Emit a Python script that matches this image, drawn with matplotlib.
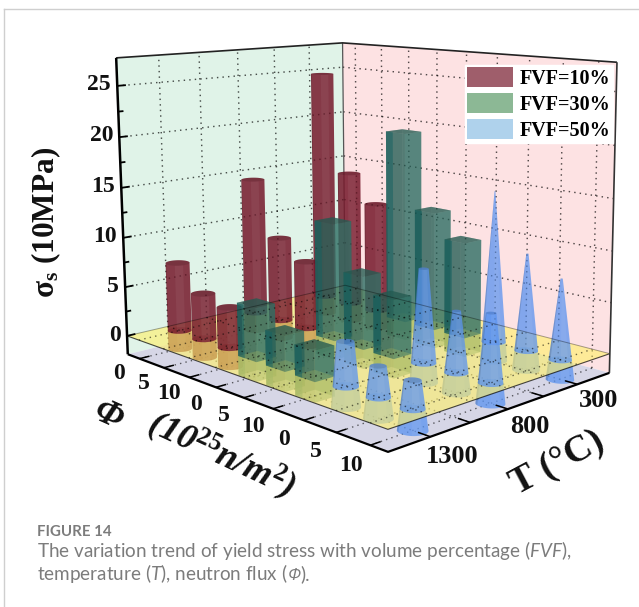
import numpy as np
import matplotlib
matplotlib.use('Agg')
import matplotlib.pyplot as plt
from matplotlib.lines import Line2D
from matplotlib.patches import Patch
from matplotlib.colors import to_rgb
from mpl_toolkits.mplot3d import proj3d
from mpl_toolkits.mplot3d.art3d import Poly3DCollection, Line3DCollection

plt.rcParams['font.family'] = ['Liberation Serif', 'DejaVu Serif']
plt.rcParams['mathtext.fontset'] = 'custom'
plt.rcParams['mathtext.bf'] = 'Liberation Serif:bold'
plt.rcParams['mathtext.rm'] = 'Liberation Serif:bold'
plt.rcParams['mathtext.it'] = 'Lato:italic'

# ---------- data ----------
T_labels = ['1300', '800', '300']
phi_labels = ['0', '5', '10']
sigma_ticks = [0, 5, 10, 15, 20, 25]
fvf_labels = ['FVF=10%', 'FVF=30%', 'FVF=50%']
# rows follow T_labels, columns follow phi_labels
sigma_fvf10 = [[7.0, 4.6, 4.0], [14.3, 8.7, 6.9], [24.7, 14.3, 11.5]]
sigma_fvf30 = [[5.2, 3.4, 2.9], [11.7, 7.2, 5.7], [19.6, 12.0, 9.6]]
sigma_fvf50 = [[4.1, 2.8, 2.5], [9.0, 5.8, 6.4], [15.0, 9.5, 7.8]]
cone_top_ratio = [[0.6, 0.55, 0.57], [0.35, 0.3, 0.35], [0.03, 0.08, 0.08]]

# ---------- styles ----------
RED, GREEN, BLUE = '#761a2c', '#2a665c', '#5c94f0'
A_RED, A_GREEN, A_BLUE = 0.86, 0.55, 0.76
Z_FLOOR, Z_TOP = -1.9, 27.7

W, H = 639, 607
fig = plt.figure(figsize=(W / 100, H / 100), dpi=100, facecolor='white')
ax = fig.add_axes([0, 0, 1, 1], projection='3d')
ax.set_xticks([]); ax.set_yticks([]); ax.set_zticks([])
ax.set_axis_off()
ax.computed_zorder = False
ax.patch.set_alpha(0)

# camera calibrated against the box corners of the figure
calib = [((0, 0, Z_TOP), (116, 58)), ((0, 0, 25), (117, 85)), ((0, 0, 0), (128, 336)),
         ((0, 0, Z_FLOOR), (128, 355)), ((9, 0, 0), (386, 428)), ((9, 0, Z_FLOOR), (389, 453)),
         ((9, 3, Z_TOP), (617, 63)), ((9, 3, 0), (610, 352)), ((9, 3, Z_FLOOR), (610, 374)),
         ((0, 3, Z_TOP), (343, 43)), ((0, 3, 0), (344, 285))]
A_, b_ = [], []
for (x, y, z), (px, py) in calib:
    A_.append([x, y, z, 1, 0, 0, 0, 0, -px * x, -px * y, -px * z]); b_.append(px)
    A_.append([0, 0, 0, 0, x, y, z, 1, -py * x, -py * y, -py * z]); b_.append(py)
p = np.linalg.lstsq(np.array(A_, float), np.array(b_, float), rcond=None)[0]
M = np.array([[p[0], p[1], p[2], p[3]],
              [p[4], p[5], p[6], p[7]],
              [-1 / 9, 1 / 3, 0.001, 0.0],
              [p[8], p[9], p[10], 1.0]])
ax.get_proj = lambda: M
ax.viewLim.intervalx = ((W - H) / 2, (W + H) / 2)
ax.viewLim.intervaly = (H, 0)


def quad(verts, color, z):
    ax.add_collection3d(Poly3DCollection([verts], facecolors=color, edgecolors='none',
                                         linewidths=0, zorder=z), autolim=False)


def line(xs, ys, zs, z=3, color='k', lw=1.0, ls='-', alpha=1.0):
    seg = [list(zip(xs, ys, zs))]
    ax.add_collection3d(Line3DCollection(seg, colors=color, linewidths=lw, linestyles=[ls],
                                         alpha=alpha, zorder=z), autolim=False)


def label3d(u, v, z, s, **kw):
    X, Y, _ = proj3d.proj_transform(u, v, z, M)
    ax.text2D(float(X), float(Y), s, transform=ax.transData, **kw)


# panes
quad([(0, 0, Z_FLOOR), (0, 3, Z_FLOOR), (0, 3, Z_TOP), (0, 0, Z_TOP)], '#e0f3e8', 1)
quad([(0, 3, Z_FLOOR), (9, 3, Z_FLOOR), (9, 3, Z_TOP), (0, 3, Z_TOP)], '#fde2e3', 1)
quad([(0, 0, Z_FLOOR), (9, 0, Z_FLOOR), (9, 3, Z_FLOOR), (0, 3, Z_FLOOR)], '#d6d6e6', 1)

dot = (0, (1, 3))
u_lines = np.arange(0.5, 9, 1.0)
v_lines = np.arange(0.5, 3, 0.5)
# wall grids: once behind the bars, once faintly through them
for zz, al in ((2, .62), (55, .16)):
    for s in sigma_ticks[1:]:
        line([0, 0], [0, 3], [s, s], z=zz, ls=dot, lw=1.0, alpha=al)
        line([0, 9], [3, 3], [s, s], z=zz, ls=dot, lw=1.0, alpha=al)
    for v in v_lines:
        line([0, 0], [v, v], [Z_FLOOR, Z_TOP], z=zz, ls=dot, lw=1.0, alpha=al)
    for u in u_lines:
        line([u, u], [3, 3], [Z_FLOOR, Z_TOP], z=zz, ls=dot, lw=1.0, alpha=al)
# floor and sigma=0 plane grids
for lev, zz, al in ((Z_FLOOR, 2, .6), (0, 50, .55)):
    for u in u_lines:
        line([u, u], [0, 3], [lev, lev], z=zz, ls=dot, lw=1.0, alpha=al)
    for v in v_lines:
        line([0, 9], [v, v], [lev, lev], z=zz, ls=dot, lw=1.0, alpha=al)


def ell(u, v, z, r, t):
    return (u + r * 0.3 * np.cos(t), v + r * 0.12 * np.sin(t), z)


def frustum(u, v, z0, z1, r0, r1, color, a, z, cap=True):
    # silhouette: front arc of the lower rim, back arc of the upper rim
    rgb = np.array(to_rgb(color))
    front = np.radians(np.linspace(225, 405, 31))
    back = np.radians(np.linspace(45, 225, 31))
    body = [ell(u, v, z0, r0, t) for t in front] + [ell(u, v, z1, r1, t) for t in back]
    polys, cols = [body], [tuple(rgb) + (a,)]
    # darker strip down the left side, lighter one at the right of centre
    s0 = np.radians(np.linspace(225, 250, 8))
    strip = [ell(u, v, z0, r0, t) for t in s0] + [ell(u, v, z1, r1, t) for t in s0[::-1]]
    polys.append(strip); cols.append((0, 0, 0, 0.12))
    s1 = np.radians(np.linspace(310, 350, 8))
    strip = [ell(u, v, z0, r0, t) for t in s1] + [ell(u, v, z1, r1, t) for t in s1[::-1]]
    polys.append(strip); cols.append((1, 1, 1, 0.05))
    if cap:
        th = np.linspace(0, 2 * np.pi, 37)[:-1]
        polys.append([ell(u, v, z1, r1, t) for t in th]); cols.append((0, 0, 0, 0.10))
    for k, (pl, c) in enumerate(zip(polys, cols)):
        ax.add_collection3d(Poly3DCollection([pl], facecolors=[c], edgecolors='none', linewidths=0,
                                             zorder=z + k * 0.01), autolim=False)


def prism(u, v, z0, z1, color, a, z):
    hu, hv = 0.33, 0.12
    rgb = np.array(to_rgb(color))
    c = [(u - hu, v - hv), (u + hu, v - hv), (u + hu, v + hv), (u - hu, v + hv)]
    fs = [0.95, 1.12, 1.0, 0.9]
    faces, cols = [], []
    for i in (2, 3, 1, 0):
        j = (i + 1) % 4
        faces.append([(*c[i], z0), (*c[j], z0), (*c[j], z1), (*c[i], z1)])
        cols.append(tuple(np.clip(rgb * fs[i], 0, 1)) + (a,))
    faces.append([(*q, z1) for q in c])
    cols.append(tuple(rgb * 0.85) + (a,))
    ax.add_collection3d(Poly3DCollection(faces, facecolors=cols, edgecolors='none', linewidths=0,
                                         zorder=z), autolim=False)
    # narrow dark teal strip on the left of the front face
    quad([(u - hu, v - hv, z0), (u - hu + 0.24, v - hv, z0),
          (u - hu + 0.24, v - hv, z1), (u - hu, v - hv, z1)], (0.08, 0.38, 0.38, 0.5), z + 0.01)


# bars: part below the sigma=0 plane, the plane, then the part above it
items = []
for it, vc in enumerate((0.5, 1.5, 2.5)):
    for ip in range(3):
        items.append((vc / 3 - (ip + 0.5) / 9, 'r', ip + 0.5, vc, sigma_fvf10[it][ip], 1, 1))
        items.append((vc / 3 - (ip + 3.5) / 9, 'g', ip + 3.5, vc, sigma_fvf30[it][ip], 1, 1))
        items.append((vc / 3 - (ip + 6.5) / 9, 'b', ip + 6.5, vc, sigma_fvf50[it][ip], 1.1,
                      cone_top_ratio[it][ip]))
items.sort(key=lambda q: -q[0])
for rank, (d, kind, u, v, val, r0, rt) in enumerate(items):
    zb, zt = 3 + rank * 0.1, 10 + rank
    if kind == 'r':
        frustum(u, v, Z_FLOOR, 0, 1, 1, RED, A_RED, zb, cap=False)
        frustum(u, v, 0, val, 1, 1, RED, A_RED, zt)
    elif kind == 'g':
        prism(u, v, Z_FLOOR, 0, GREEN, A_GREEN, zb)
        prism(u, v, 0, val, GREEN, A_GREEN, zt)
    else:
        rr = r0 * rt
        r_at0 = r0 + (rr - r0) * (-Z_FLOOR) / (val - Z_FLOOR)
        frustum(u, v, Z_FLOOR, 0, r0, r_at0, BLUE, A_BLUE, zb, cap=False)
        frustum(u, v, 0, val, r_at0, rr, BLUE, A_BLUE, zt)

quad([(0, 0, 0), (9, 0, 0), (9, 3, 0), (0, 3, 0)], (1.0, 0.94, 0.42, 0.62), 7)
line([0, 9, 9], [0, 0, 3], [0, 0, 0], z=50, lw=0.8, alpha=.7)
line([0, 0, 9], [0, 3, 3], [0, 0, 0], z=50, lw=0.7, alpha=.35)

# frame
F = 60
line([0, 0, 9], [0, 3, 3], [Z_TOP] * 3, z=F, lw=1.2, color='#222222')
line([0, 0], [0, 0], [Z_FLOOR, Z_TOP], z=F, lw=1.8)
line([9, 9], [3, 3], [Z_FLOOR, Z_TOP], z=F, lw=1.2, color='#333333')
line([0, 0], [3, 3], [0, Z_TOP], z=2, lw=0.9, color='#555555')
line([0, 9, 9], [0, 0, 3], [Z_FLOOR] * 3, z=F, lw=1.6)

# ticks
for s in np.arange(0, 26, 2.5):
    line([0, 0], [0, 0.1 if s % 5 == 0 else 0.06], [s, s], z=F, lw=1.3)
for u in u_lines:
    line([u, u], [0, 0.12], [Z_FLOOR] * 2, z=F, lw=1.1)
for v in v_lines:
    line([9, 8.65], [v, v], [Z_FLOOR] * 2, z=F, lw=1.1)

TXT = dict(fontweight='bold', color='#111111', zorder=70)
for s in sigma_ticks:
    label3d(0, -0.07, s + 0.2, str(s), ha='right', va='center', fontsize=17, **TXT)
for k in range(9):
    label3d(k + 0.7, -0.3, Z_FLOOR - 0.7, phi_labels[k % 3], ha='center', va='center', fontsize=17, **TXT)
for v, lab in zip((0.5, 1.5, 2.5), T_labels):
    label3d(9.6, v, Z_FLOOR - 1.0, lab, ha='center', va='center', fontsize=19, **TXT)

fx = lambda x: x / W
fy = lambda y: 1 - y / H
fig.text(fx(46), fy(222), r'$\mathbf{\sigma_s}$ (10MPa)', rotation=90, ha='center', va='center',
         fontsize=22.5, fontweight='bold', color='#111111')
fig.text(fx(108), fy(416), 'Φ', rotation=-24, ha='center', va='center', fontsize=26,
         fontweight='bold', style='italic', color='#111111', rotation_mode='anchor')
fig.text(fx(221), fy(455), r'(10$\mathbf{^{25}}$n/m$\mathbf{^{2}}$)', rotation=-25,
         ha='center', va='center', fontsize=26, fontweight='bold', style='italic', color='#111111',
         rotation_mode='anchor')
fig.text(fx(557), fy(463), 'T (°C)', rotation=28, ha='center', va='center', fontsize=27,
         fontweight='bold', color='#111111', rotation_mode='anchor')

handles = [Patch(facecolor=RED, alpha=0.7), Patch(facecolor='#3f8a4f', alpha=0.6),
           Patch(facecolor='#7ab4e0', alpha=0.6)]
leg = ax.legend(handles, fvf_labels, loc='upper left', bbox_to_anchor=(fx(465), fy(65)),
                bbox_transform=fig.transFigure, borderaxespad=0, frameon=True, fancybox=False,
                framealpha=1, edgecolor='white', prop=dict(family='Liberation Serif', weight='bold', size=14.5),
                handlelength=2.25, handleheight=1.1, labelspacing=0.22, borderpad=0.12, handletextpad=0.35)
leg.set_zorder(90)

# caption and card border
fig.add_artist(Line2D([fx(4), fx(4)], [0, fy(9)], color='#cfcfcf', lw=1))
fig.add_artist(Line2D([fx(4), 1], [fy(9), fy(9)], color='#cfcfcf', lw=1))
CAP = dict(family='Lato', color='#7c7c7c', ha='left', va='baseline')
fig.text(fx(37), fy(536), 'FIGURE 14', fontsize=10.8, fontweight='bold', **CAP)
fig.text(fx(37), fy(557), r'The variation trend of yield stress with volume percentage ($\mathit{FVF}$),',
         fontsize=13.6, **CAP)
t0 = fig.text(fx(37), fy(580), r'temperature ($\mathit{T}$), neutron flux (', fontsize=13.6, **CAP)
rend = fig.canvas.get_renderer()
x1 = t0.get_window_extent(rend).x1
t1 = fig.text(x1 / W, fy(580), 'Φ', fontsize=12.6, fontstyle='italic', family='Open Sans',
              color='#7c7c7c', ha='left', va='baseline')
x2 = t1.get_window_extent(rend).x1
fig.text(x2 / W, fy(580), ').', fontsize=13.6, **CAP)

fig.savefig('out.png', dpi=100)
